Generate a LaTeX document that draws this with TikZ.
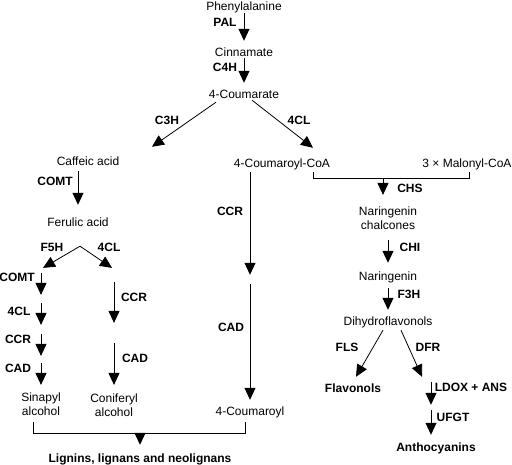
\documentclass[tikz,border=0pt]{standalone}
\usepackage{fontspec}
\setmainfont{Liberation Sans}
\usetikzlibrary{arrows.meta}
\begin{document}
\begin{tikzpicture}[x=1pt,y=-1pt,
  txt/.style={font=\fontsize{12}{14}\selectfont, inner sep=0pt, text height=9pt, text depth=0pt},
  two/.style={font=\fontsize{12}{14}\selectfont, inner sep=0pt, align=center},
  lab/.style={txt, font=\fontsize{12}{14}\selectfont\bfseries},
  blab/.style={txt, font=\fontsize{12}{14}\selectfont\bfseries},
  arr/.style={line width=1pt, -{Triangle[width=11pt,length=12pt]}},
  darr/.style={line width=0.8pt, -{Triangle[width=11pt,length=12pt]}},
  brk/.style={line width=0.9pt}
]
\useasboundingbox[fill=white] (0,0) rectangle (512,465);

% compounds
\node[txt] (phe) at (244,6) {Phenylalanine};
\node[txt] (cin) at (244,52) {Cinnamate};
\node[txt] (cou) at (244,94) {4-Coumarate};
\node[txt] (caf) at (88,161) {Caffeic acid};
\node[txt] (fer) at (78,222) {Ferulic acid};
\node[txt] (cca) at (282,163) {4-Coumaroyl-CoA};
\node[txt] (mal) at (467,163) {3 × Malonyl-CoA};
\node[two] (sin) at (41,404) {Sinapyl\\alcohol};
\node[two] (con) at (114,405) {Coniferyl\\alcohol};
\node[txt] (cmy) at (250,411) {4-Coumaroyl};
\node[blab] (lig) at (140,458) {Lignins, lignans and neolignans};
\node[two] (nch) at (388,218) {Naringenin\\chalcones};
\node[txt] (nar) at (388,276) {Naringenin};
\node[txt] (dih) at (388,321) {Dihydroflavonols};
\node[blab] (flv) at (353,388) {Flavonols};
\node[blab] (ant) at (436,447) {Anthocyanins};

% enzyme labels
\node[lab] (lPAL) at (225,22) {PAL};
\node[lab] (lC4H) at (225,67) {C4H};
\node[lab] (lC3H) at (167,120) {C3H};
\node[lab] (l4CLa) at (299,120) {4CL};
\node[lab] (lCOMTa) at (55,181) {COMT};
\node[lab] (lF5H) at (52,247) {F5H};
\node[lab] (l4CLb) at (109,247) {4CL};
\node[lab] (lCOMTb) at (17,277) {COMT};
\node[lab] (l4CLc) at (19,311) {4CL};
\node[lab] (lCCRa) at (18,339) {CCR};
\node[lab] (lCADa) at (18,368) {CAD};
\node[lab] (lCCRb) at (134,297) {CCR};
\node[lab] (lCADb) at (135,358) {CAD};
\node[lab] (lCCRc) at (230,211) {CCR};
\node[lab] (lCADc) at (231,327) {CAD};
\node[lab] (lCHS) at (410,188) {CHS};
\node[lab] (lCHI) at (410,247) {CHI};
\node[lab] (lF3H) at (409,294) {F3H};
\node[lab] (lFLS) at (347,347) {FLS};
\node[lab] (lDFR) at (428,347) {DFR};
\node[lab] (lLDOX) at (471,387) {LDOX + ANS};
\node[lab] (lUFGT) at (453,417) {UFGT};

% top chain
\draw[arr] ([shift={(0,2.5)}]phe.south) -- ([shift={(0,-6.5)}]cin.north);
\draw[arr] ([shift={(0,1.5)}]cin.south) -- ([shift={(0,-6.5)}]cou.north);
\draw[darr] ([shift={(-28,3.5)}]cou.south) -- ([shift={(64,-9.5)}]caf.north);
\draw[darr] ([shift={(8,1.5)}]cou.south) -- ([shift={(31,-10.5)}]cca.north);

% left branch
\draw[arr] ([shift={(-10,5.5)}]caf.south) -- ([shift={(0,-12.5)}]fer.north);
\draw[darr] ([shift={(2,19.5)}]fer.south) -- ([shift={(2,-124.5)}]sin.north);
\draw[darr] ([shift={(2,19.5)}]fer.south) -- ([shift={(-2,-125.5)}]con.north);
\draw[arr] ([shift={(0,-119.5)}]sin.north) -- ([shift={(0,-97.5)}]sin.north);
\draw[arr] ([shift={(0,-89.5)}]sin.north) -- ([shift={(0,-67.5)}]sin.north);
\draw[arr] ([shift={(0,-58.5)}]sin.north) -- ([shift={(0,-36.5)}]sin.north);
\draw[arr] ([shift={(0,-29.5)}]sin.north) -- ([shift={(0,-7.5)}]sin.north);
\draw[arr] ([shift={(0,-111.5)}]con.north) -- ([shift={(0,-70.5)}]con.north);
\draw[arr] ([shift={(0,-50.5)}]con.north) -- ([shift={(0,-8.5)}]con.north);

% 4-coumaroyl column
\draw[arr] ([shift={(-32,4.5)}]cca.south) -- ([shift={(0,-131.5)}]cmy.north);
\draw[arr] ([shift={(0,-122.5)}]cmy.north) -- ([shift={(0,-6.5)}]cmy.north);

% bottom bracket
\draw[brk] ([shift={(-8,6.5)}]sin.south) -- ++(0,11) -| ([shift={(-5,6.5)}]cmy.south);
\draw[arr] ([shift={(0,-20.5)}]lig.north) -- ([shift={(0,-8.5)}]lig.north);

% flavonoid branch
\draw[brk] ([shift={(31,4.5)}]cca.south) -- ++(0,6) -| ([shift={(2,4.5)}]mal.south);
\draw[arr] ([shift={(-5,-28.5)}]nch.north) -- ([shift={(-5,-11.5)}]nch.north);
\draw[arr] ([shift={(0,10.5)}]nch.south) -- ([shift={(0,-8.5)}]nar.north);
\draw[arr] ([shift={(0,7.5)}]nar.south) -- ([shift={(0,-6.5)}]dih.north);
\draw[darr] ([shift={(-5,4.5)}]dih.south) -- ([shift={(3,-6.5)}]flv.north);
\draw[darr] ([shift={(13,4.5)}]dih.south) -- ([shift={(-14,-65.5)}]ant.north);
\draw[arr] ([shift={(-5,-60.5)}]ant.north) -- ([shift={(-5,-37.5)}]ant.north);
\draw[arr] ([shift={(-5,-32.5)}]ant.north) -- ([shift={(-5,-7.5)}]ant.north);
\end{tikzpicture}
\end{document}
